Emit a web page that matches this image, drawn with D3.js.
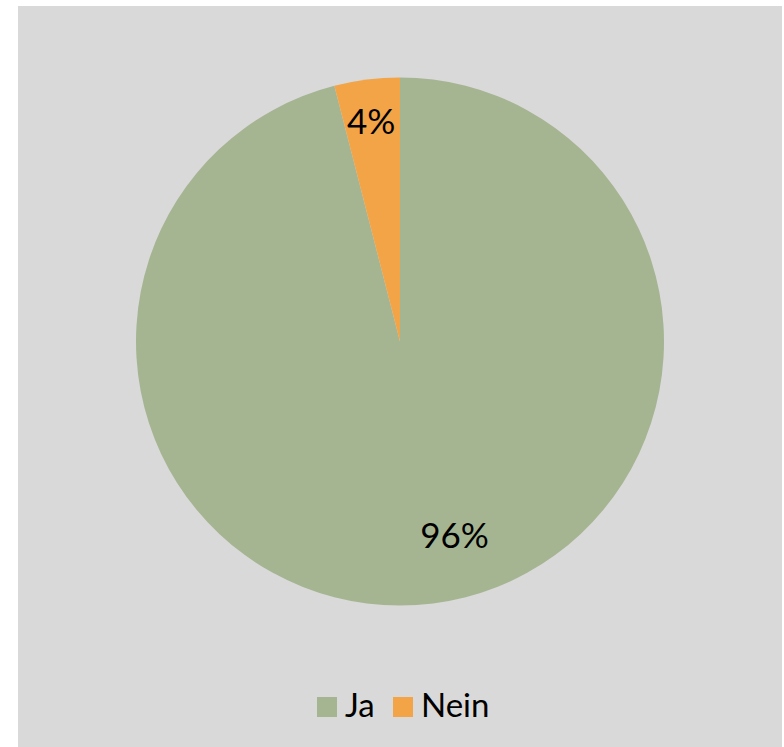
<!DOCTYPE html>
<html>
<head>
<meta charset="utf-8">
<script src="https://cdn.jsdelivr.net/npm/d3@7"></script>
<style>
  body { margin: 0; background: #fff; }
  text { font-family: "Gill Sans MT", "Gill Sans", Lato, sans-serif; }
</style>
</head>
<body>
<div id="chart"></div>
<script>
// Data
const categories = ["Ja", "Nein"];
const values = [96, 4];
const colors = ["#A5B592", "#F3A447"];

const width = 784;
const height = 747;

const svg = d3.select("#chart")
    .append("svg")
    .attr("width", width)
    .attr("height", height);

// Chart area background
svg.append("rect")
    .attr("x", 18)
    .attr("y", 6)
    .attr("width", 764)
    .attr("height", 741)
    .attr("fill", "#D9D9D9");

const cx = 400, cy = 341.5, radius = 264;

const color = d3.scaleOrdinal().domain(categories).range(colors);

const pie = d3.pie().sort(null).value(d => d.value);
const arcs = pie(categories.map((c, i) => ({ category: c, value: values[i] })));

const arc = d3.arc().innerRadius(0).outerRadius(radius);
const smallLabelArc = d3.arc().innerRadius(radius * 0.84).outerRadius(radius * 0.84);
const bigLabelArc = d3.arc().innerRadius(radius * 0.74).outerRadius(radius * 0.74);

const g = svg.append("g").attr("transform", `translate(${cx},${cy})`);

g.selectAll("path")
    .data(arcs)
    .enter()
    .append("path")
    .attr("d", arc)
    .attr("fill", d => color(d.data.category));

// Percent labels
g.selectAll(".label")
    .data(arcs)
    .enter()
    .append("text")
    .attr("class", "label")
    .attr("transform", d => {
        const big = d.data.value > 50;
        const [x, y] = (big ? bigLabelArc : smallLabelArc).centroid(d);
        // the big slice's label sits a bit further right, like Excel's best fit
        const shift = big ? 30 : -1;
        return `translate(${x + shift},${y})`;
    })
    .attr("text-anchor", "middle")
    .attr("dy", "0.35em")
    .style("font-size", "35px")
    .style("fill", "#000")
    .text(d => d.data.value + "%");

// Legend
const legend = svg.append("g").attr("transform", "translate(317,697)");
const legendX = [0, 76];

const items = legend.selectAll("g")
    .data(categories)
    .enter()
    .append("g")
    .attr("transform", (d, i) => `translate(${legendX[i]},0)`);

items.append("rect")
    .attr("width", 20)
    .attr("height", 20)
    .attr("fill", d => color(d));

items.append("text")
    .attr("x", 28)
    .attr("y", 20)
    .style("font-size", "33px")
    .style("fill", "#000")
    .text(d => d);
</script>
</body>
</html>
